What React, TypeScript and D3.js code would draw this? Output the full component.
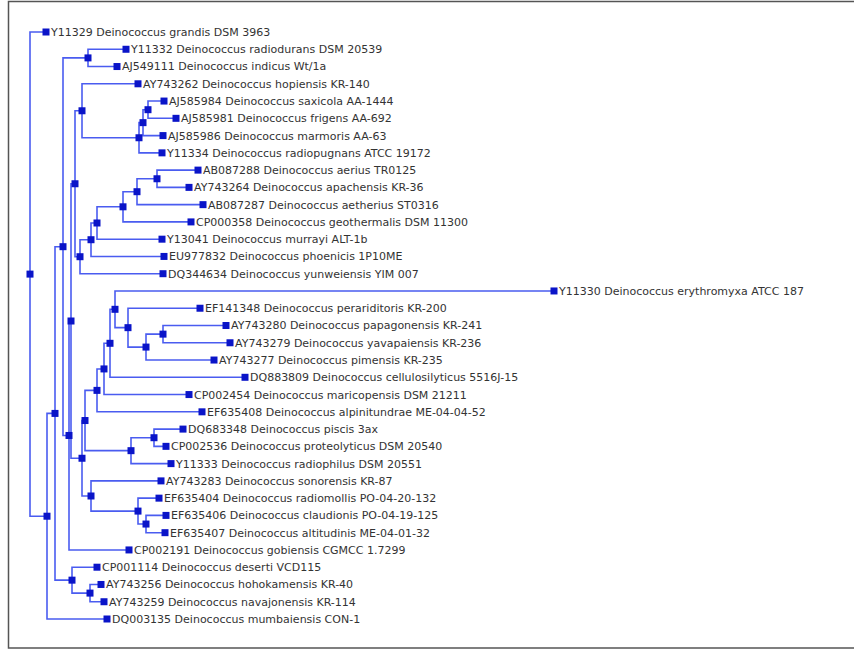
import * as d3 from "d3";
import { useEffect, useRef } from "react";

// tree table in preorder: node id, parent id, branch length
const nodeIds = [
  "root", "Y11329 Deinococcus grandis DSM 3963", "A", "B", "C", "F",
  "Y11332 Deinococcus radiodurans DSM 20539", "AJ549111 Deinococcus indicus Wt/1a",
  "G", "J", "H", "L", "AY743262 Deinococcus hopiensis KR-140", "M", "N", "O",
  "AJ585984 Deinococcus saxicola AA-1444", "AJ585981 Deinococcus frigens AA-692",
  "AJ585986 Deinococcus marmoris AA-63", "Y11334 Deinococcus radiopugnans ATCC 19172",
  "P", "Q", "R", "S", "T", "U",
  "AB087288 Deinococcus aerius TR0125", "AY743264 Deinococcus apachensis KR-36",
  "AB087287 Deinococcus aetherius ST0316", "CP000358 Deinococcus geothermalis DSM 11300",
  "Y13041 Deinococcus murrayi ALT-1b", "EU977832 Deinococcus phoenicis 1P10ME",
  "DQ344634 Deinococcus yunweiensis YIM 007",
  "K", "V", "X", "Z", "AA", "AB",
  "Y11330 Deinococcus erythromyxa ATCC 187", "AC",
  "EF141348 Deinococcus perariditoris KR-200", "AD", "AE",
  "AY743280 Deinococcus papagonensis KR-241", "AY743279 Deinococcus yavapaiensis KR-236",
  "AY743277 Deinococcus pimensis KR-235", "DQ883809 Deinococcus cellulosilyticus 5516J-15",
  "CP002454 Deinococcus maricopensis DSM 21211", "EF635408 Deinococcus alpinitundrae ME-04-04-52",
  "Y", "AF", "DQ683348 Deinococcus piscis 3ax", "CP002536 Deinococcus proteolyticus DSM 20540",
  "Y11333 Deinococcus radiophilus DSM 20551",
  "W", "AY743283 Deinococcus sonorensis KR-87", "AG",
  "EF635404 Deinococcus radiomollis PO-04-20-132", "AH",
  "EF635406 Deinococcus claudionis PO-04-19-125", "EF635407 Deinococcus altitudinis ME-04-01-32",
  "CP002191 Deinococcus gobiensis CGMCC 1.7299",
  "D", "CP001114 Deinococcus deserti VCD115", "E",
  "AY743256 Deinococcus hohokamensis KR-40", "AY743259 Deinococcus navajonensis KR-114",
  "DQ003135 Deinococcus mumbaiensis CON-1",
];

const parentIds = [
  "", "root", "root", "A", "B", "C", "F", "F",
  "C", "G", "J", "H", "L", "L", "M", "N", "O", "O", "N", "M",
  "H", "P", "Q", "R", "S", "T", "U", "U", "T", "S", "R", "Q", "P",
  "J", "K", "V", "X", "Z", "AA", "AB", "AB", "AC", "AC", "AD", "AE", "AE", "AD", "AA", "Z", "X",
  "V", "Y", "AF", "AF", "Y",
  "K", "W", "W", "AG", "AG", "AH", "AH",
  "G",
  "B", "D", "D", "E", "E",
  "A",
];

const branchLengths = [
  0, 0.016, 0.017, 0.008, 0.008, 0.025, 0.038, 0.029,
  0.006, 0.002, 0.004, 0.007, 0.056, 0.057, 0.004, 0.005, 0.016, 0.028, 0.020, 0.023,
  0.005, 0.011, 0.006, 0.026, 0.014, 0.020, 0.041, 0.032, 0.066, 0.068, 0.065, 0.073, 0.083,
  0.011, 0.003, 0.012, 0.007, 0.006, 0.005, 0.439, 0.013, 0.072, 0.018, 0.017, 0.063, 0.067, 0.068, 0.135, 0.085, 0.105,
  0.046, 0.023, 0.029, 0.012, 0.040,
  0.009, 0.070, 0.047, 0.021, 0.008, 0.020, 0.019,
  0.060,
  0.017, 0.025, 0.018, 0.011, 0.014,
  0.060,
];

const width = 854;
const height = 651;

const PhyloTree = () => {
  const svgRef = useRef<SVGSVGElement>(null);

  useEffect(() => {
    const svg = d3.select(svgRef.current);
    svg.selectAll("*").remove();

    const rows = nodeIds.map((id, i) => ({
      id,
      parent: parentIds[i] || null,
      len: branchLengths[i],
    }));

    const root = d3
      .stratify<any>()
      .id((d) => d.id)
      .parentId((d) => d.parent)(rows);

    d3.cluster<any>().size([1, 1]).separation(() => 1)(root);

    // cumulative distance from root
    root.eachBefore((n: any) => {
      n.dist = n.parent ? n.parent.dist + n.data.len : 0;
    });

    const x = d3.scaleLinear().domain([0, 0.524]).range([30, 554]);
    const y = d3
      .scaleLinear()
      .domain(d3.extent(root.leaves(), (d: any) => d.x) as [number, number])
      .range([32, 619]);

    svg
      .append("rect")
      .attr("x", 8.5)
      .attr("y", 1.5)
      .attr("width", 900)
      .attr("height", 646.5)
      .attr("fill", "white")
      .attr("stroke", "#555")
      .attr("stroke-width", 1.5);

    const g = svg.append("g");

    g.selectAll("path.link")
      .data(root.links())
      .enter()
      .append("path")
      .attr("class", "link")
      .attr("fill", "none")
      .attr("stroke", "#4a5cf0")
      .attr("stroke-width", 1.6)
      .attr("d", (l: any) => {
        const px = x(l.source.dist);
        const py = y(l.source.x);
        return `M${px},${py}V${y(l.target.x)}H${x(l.target.dist)}`;
      });

    g.selectAll("rect.node")
      .data(root.descendants())
      .enter()
      .append("rect")
      .attr("class", "node")
      .attr("x", (d: any) => x(d.dist) - 3.5)
      .attr("y", (d: any) => y(d.x) - 3.5)
      .attr("width", 7)
      .attr("height", 7)
      .attr("fill", "#0a14c8");

    g.selectAll("text.label")
      .data(root.leaves())
      .enter()
      .append("text")
      .attr("class", "label")
      .attr("x", (d: any) => x(d.dist) + 5)
      .attr("y", (d: any) => y(d.x))
      .attr("dy", "0.36em")
      .attr("fill", "#333")
      .attr("font-family", "DejaVu Sans")
      .attr("font-size", 11)
      .text((d: any) => d.id);
  }, []);

  return (
    <svg
      ref={svgRef}
      width={width}
      height={height}
      style={{ position: "absolute", left: 0, top: 0, background: "white" }}
    />
  );
};

export default function App() {
  return <PhyloTree />;
}
